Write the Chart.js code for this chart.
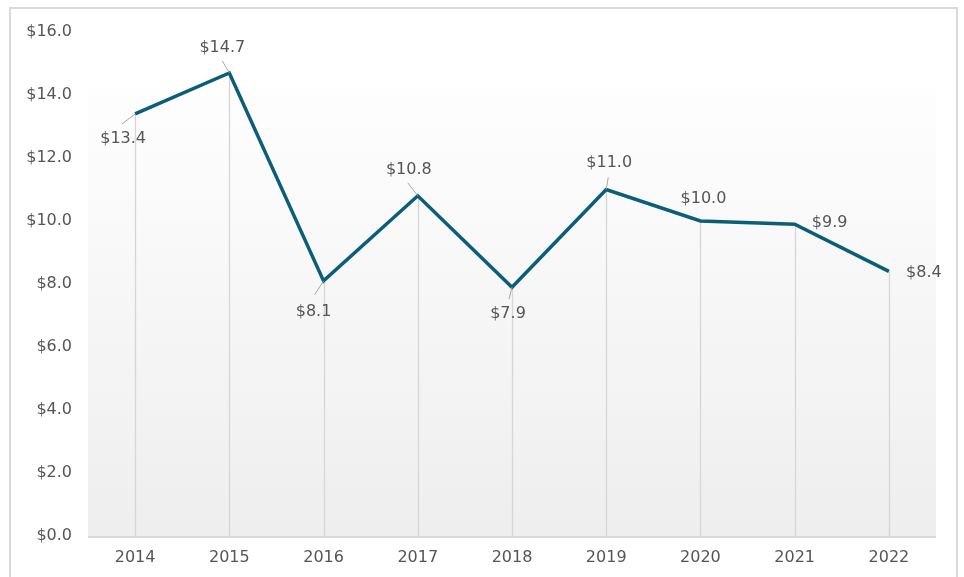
<!DOCTYPE html>
<html>
<head>
<meta charset="utf-8">
<script src="https://cdn.jsdelivr.net/npm/chart.js@4"></script>
<style>
  html, body { margin: 0; padding: 0; background: #fff; }
  #wrap { width: 964px; height: 577px; }
</style>
</head>
<body>
<div id="wrap"><canvas id="chart" width="964" height="577"></canvas></div>
<script>
// data
const years = ['2014', '2015', '2016', '2017', '2018', '2019', '2020', '2021', '2022'];
const values = [13.4, 14.7, 8.1, 10.8, 7.9, 11.0, 10.0, 9.9, 8.4];
const yTicks = [0, 2, 4, 6, 8, 10, 12, 14, 16];

// label placement: [dx, dy, leaderX, leaderY] relative to the point (0 leader = none)
const labelPos = [
  [-12, 25, -13, 10],
  [-7, -25, -7, -12],
  [-10, 31, -9, 14],
  [-9, -26, -10, -13],
  [-4, 27, -3, 12],
  [3, -27, 2, -12],
  [3, -22, 0, 0],
  [35, -1, 0, 0],
  [35, 1, 0, 0]
];

const font = '"DejaVu Sans", sans-serif';
const textColor = '#555555';

// background gradient, drop lines, frame
const decor = {
  id: 'decor',
  beforeDraw(chart) {
    const { ctx, chartArea: a } = chart;
    ctx.save();
    const top = a.top + 56;
    const g = ctx.createLinearGradient(0, top, 0, a.bottom);
    g.addColorStop(0, '#fefefe');
    g.addColorStop(1, '#eeeeee');
    ctx.fillStyle = g;
    ctx.fillRect(a.left, top, a.right - a.left, a.bottom - top);
    ctx.restore();
  },
  beforeDatasetsDraw(chart) {
    const { ctx, chartArea: a } = chart;
    const meta = chart.getDatasetMeta(0);
    ctx.save();
    ctx.strokeStyle = '#d6d6d6';
    ctx.lineWidth = 1.3;
    meta.data.forEach(p => {
      const x = Math.round(p.x) + 0.5;
      ctx.beginPath();
      ctx.moveTo(x, p.y);
      ctx.lineTo(x, a.bottom);
      ctx.stroke();
    });
    // axis line
    ctx.strokeStyle = '#d9d9d9';
    ctx.lineWidth = 2;
    ctx.beginPath();
    ctx.moveTo(a.left, a.bottom + 1);
    ctx.lineTo(a.right, a.bottom + 1);
    ctx.stroke();
    ctx.restore();
  },
  afterDraw(chart) {
    const { ctx } = chart;
    const meta = chart.getDatasetMeta(0);
    ctx.save();
    // data labels with leader lines
    ctx.font = '16px ' + font;
    ctx.fillStyle = textColor;
    ctx.textAlign = 'center';
    ctx.textBaseline = 'middle';
    meta.data.forEach((p, i) => {
      const [dx, dy, lx, ly] = labelPos[i];
      if (lx || ly) {
        ctx.strokeStyle = '#a6a6a6';
        ctx.lineWidth = 1;
        ctx.beginPath();
        ctx.moveTo(p.x, p.y);
        ctx.lineTo(p.x + lx, p.y + ly);
        ctx.stroke();
      }
      ctx.fillText('$' + values[i].toFixed(1), p.x + dx, p.y + dy);
    });
    // chart frame
    ctx.strokeStyle = '#d9d9d9';
    ctx.lineWidth = 2;
    ctx.strokeRect(10, 8, 947, 600);
    ctx.restore();
  }
};

const ctx = document.getElementById('chart').getContext('2d');
const myChart = new Chart(ctx, {
  type: 'line',
  data: {
    labels: years,
    datasets: [{
      label: 'value',
      data: values,
      borderColor: '#0b5e7a',
      borderWidth: 3.5,
      pointRadius: 0,
      tension: 0,
      fill: false
    }]
  },
  options: {
    responsive: false,
    animation: false,
    layout: { padding: { left: 10, top: 32, right: 28, bottom: 0 } },
    plugins: { legend: { display: false }, tooltip: { enabled: false } },
    scales: {
      x: {
        offset: true,
        grid: { display: false, drawTicks: false },
        border: { display: false },
        ticks: { color: textColor, font: { family: font, size: 16 }, padding: 12 },
        afterFit: s => { s.height = 41; }
      },
      y: {
        min: 0,
        max: 16,
        afterBuildTicks: s => { s.ticks = yTicks.map(v => ({ value: v })); },
        grid: { display: false, drawTicks: false },
        border: { display: false },
        ticks: {
          color: textColor,
          font: { family: font, size: 16 },
          padding: 16,
          callback: v => '$' + Number(v).toFixed(1)
        },
        afterFit: s => { s.width = 78; }
      }
    }
  },
  plugins: [decor]
});
</script>
</body>
</html>
